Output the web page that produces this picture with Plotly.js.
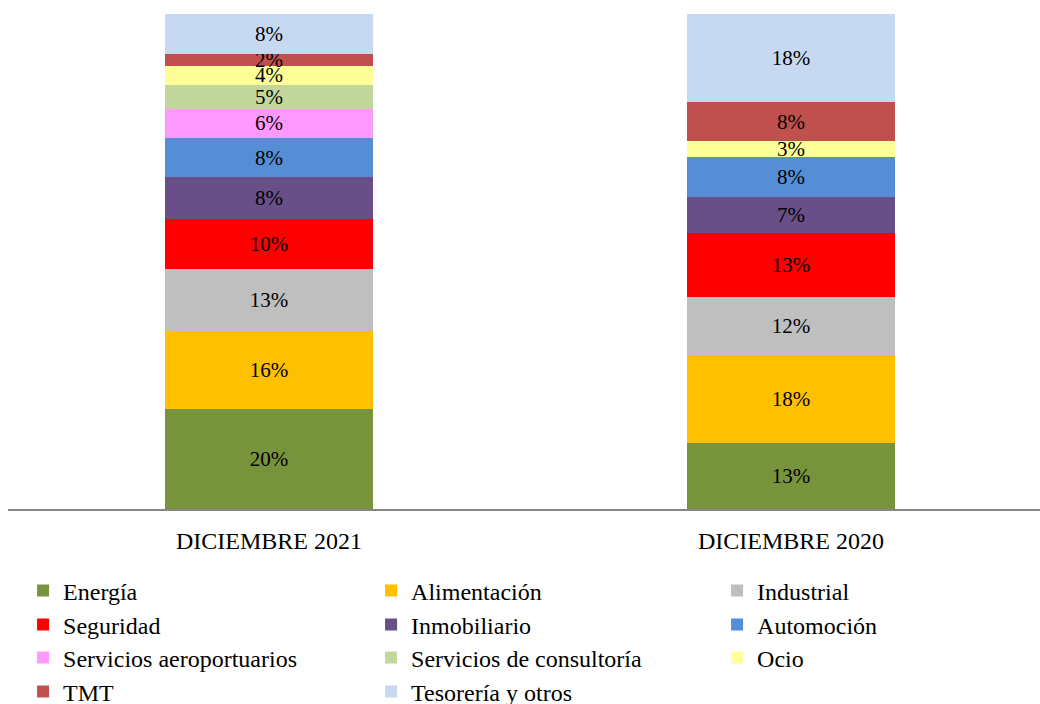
<!DOCTYPE html>
<html>
<head>
<meta charset="utf-8">
<script src="https://cdn.plot.ly/plotly-3.0.1.min.js"></script>
<style>html,body{margin:0;padding:0;background:#fff;}#chart{width:1040px;height:704px;}</style>
</head>
<body>
<div id="chart"></div>
<script>
const categories = ['DICIEMBRE 2021', 'DICIEMBRE 2020'];
const seriesNames = ['Energía', 'Alimentación', 'Industrial', 'Seguridad', 'Inmobiliario', 'Automoción',
  'Servicios aeroportuarios', 'Servicios de consultoría', 'Ocio', 'TMT', 'Tesorería y otros'];
const energia = [20.2, 13.3];
const alimentacion = [15.8, 17.8];
const industrial = [12.5, 11.7];
const seguridad = [10.1, 12.9];
const inmobiliario = [8.4, 7.3];
const automocion = [8.0, 8.1];
const aeroportuarios = [5.9, 0];
const consultoria = [4.8, 0];
const ocio = [3.8, 3.2];
const tmt = [2.4, 7.9];
const tesoreria = [8.1, 17.8];
const seriesValues = [energia, alimentacion, industrial, seguridad, inmobiliario, automocion,
  aeroportuarios, consultoria, ocio, tmt, tesoreria];
const colors = ['#77933C', '#FFC000', '#BFBFBF', '#FF0000', '#684F87', '#558ED5',
  '#FF99FF', '#C3D69B', '#FFFF99', '#C0504D', '#C6D9F1'];

const legendIds = ['legend', 'legend2', 'legend3', 'legend4'];
const colWidths = [303, 301, 200];

const traces = seriesNames.map((name, i) => ({
  type: 'bar',
  name: name,
  x: categories,
  y: seriesValues[i],
  width: 0.398,
  marker: {color: colors[i], line: {width: 0}},
  text: seriesValues[i].map(v => v > 0 ? Math.round(v) + '%' : ''),
  textposition: 'inside',
  insidetextanchor: 'middle',
  constraintext: 'none',
  textangle: 0,
  textfont: {family: 'Liberation Serif, Times New Roman, serif', size: 21, color: '#000'},
  hoverinfo: 'skip',
  legend: legendIds[Math.floor(i / 3)],
  legendwidth: colWidths[i % 3]
}));

const legendRowY = [591, 625, 658, 692];
function mkLegend(yPx) {
  return {
    orientation: 'h',
    xref: 'paper', x: 0.0146, xanchor: 'left',
    yref: 'container', y: 1 - yPx / 704, yanchor: 'middle',
    font: {family: 'Liberation Serif, Times New Roman, serif', size: 24, color: '#000'},
    bgcolor: 'rgba(0,0,0,0)',
    borderwidth: 0,
    traceorder: 'normal',
    entrywidthmode: 'pixels'
  };
}

const layout = {
  width: 1040, height: 704,
  margin: {l: 8, r: 0, t: 14, b: 195},
  paper_bgcolor: '#fff', plot_bgcolor: '#fff',
  barmode: 'stack',
  font: {family: 'Liberation Serif, Times New Roman, serif', color: '#000'},
  xaxis: {
    range: [-0.5, 1.477],
    showline: true, linecolor: '#868686', linewidth: 1.5,
    showgrid: false, zeroline: false, ticks: '',
    tickfont: {family: 'Liberation Serif, Times New Roman, serif', size: 24, color: '#000'},
    ticklabelstandoff: 10,
    fixedrange: true
  },
  yaxis: {range: [0, 100], visible: false, showgrid: false, zeroline: false, fixedrange: true},
  showlegend: true,
  legend: mkLegend(legendRowY[0]),
  legend2: mkLegend(legendRowY[1]),
  legend3: mkLegend(legendRowY[2]),
  legend4: mkLegend(legendRowY[3])
};

Plotly.newPlot('chart', traces, layout, {displayModeBar: false, staticPlot: true});
</script>
</body>
</html>
